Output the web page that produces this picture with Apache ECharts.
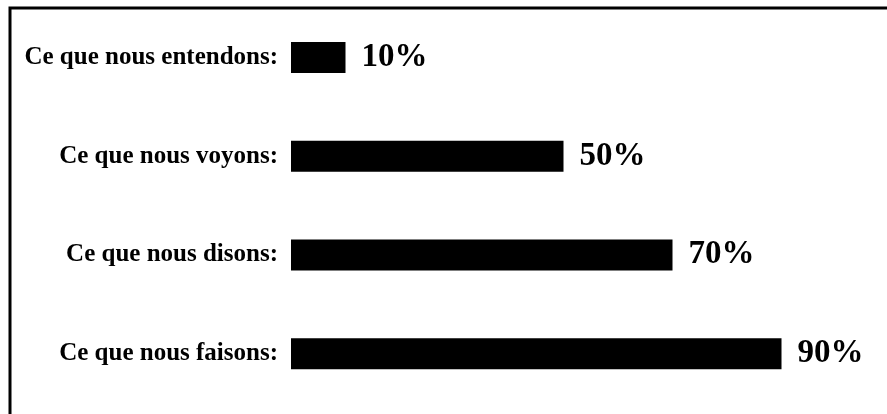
<!DOCTYPE html>
<html>
<head>
<meta charset="utf-8">
<script src="https://cdn.jsdelivr.net/npm/echarts@6/dist/echarts.min.js"></script>
<style>
html,body{margin:0;padding:0;background:#fff;}
#chart{width:887px;height:414px;}
</style>
</head>
<body>
<div id="chart"></div>
<script>
var categories = ['Ce que nous entendons:', 'Ce que nous voyons:', 'Ce que nous disons:', 'Ce que nous faisons:'];
var values = [10, 50, 70, 90];

var chart = echarts.init(document.getElementById('chart'));
chart.setOption({
  backgroundColor: '#ffffff',
  animation: false,
  graphic: [{
    type: 'rect',
    shape: { x: 10, y: 8, width: 900, height: 430 },
    style: { fill: 'none', stroke: '#000', lineWidth: 3 },
    z: 0
  }],
  grid: { left: 291, right: 51, top: 8, bottom: 11 },
  xAxis: {
    type: 'value', min: 0, max: 100,
    show: false
  },
  yAxis: {
    type: 'category',
    data: categories,
    inverse: true,
    axisLine: { show: false },
    axisTick: { show: false },
    axisLabel: {
      margin: 13,
      color: '#000',
      fontFamily: 'Liberation Serif',
      fontWeight: 'bold',
      fontSize: 25
    }
  },
  series: [{
    type: 'bar',
    data: values,
    barWidth: 31,
    itemStyle: { color: '#000' },
    label: {
      show: true,
      position: 'right',
      distance: 16,
      formatter: '{c}%',
      color: '#000',
      fontFamily: 'Liberation Serif',
      fontWeight: 'bold',
      fontSize: 33
    }
  }]
});
</script>
</body>
</html>
